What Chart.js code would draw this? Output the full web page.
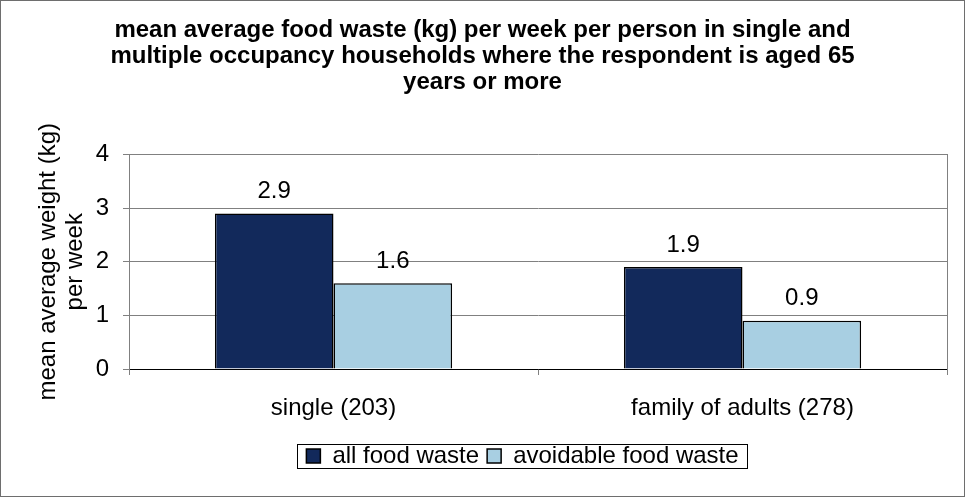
<!DOCTYPE html>
<html>
<head>
<meta charset="utf-8">
<script src="https://cdn.jsdelivr.net/npm/chart.js@4/dist/chart.umd.min.js"></script>
<style>
  html, body { margin: 0; padding: 0; background: #fff; }
  #wrap { width: 965px; height: 497px; }
</style>
</head>
<body>
<div id="wrap"><canvas id="myChart" width="965" height="497"></canvas></div>
<script>
let categorias = ["single (203)", "family of adults (278)"];
let todoDesperdicio = [2.9, 1.9];
let evitableDesperdicio = [1.6, 0.9];
let etiquetasY = [0, 1, 2, 3, 4];

let titulo = [
    "mean average food waste (kg) per week per person in single and",
    "multiple occupancy households where the respondent is aged 65",
    "years or more"
];
let tituloEjeY = ["mean average weight (kg)", "per week"];

let fuente = "'Liberation Sans', Arial, sans-serif";

// numeros encima de las barras
const pluginValores = {
    id: "valores",
    afterDatasetsDraw(chart) {
        const ctx = chart.ctx;
        ctx.save();
        ctx.font = "24px " + fuente;
        ctx.fillStyle = "#000";
        ctx.textAlign = "center";
        ctx.textBaseline = "bottom";
        chart.data.datasets.forEach((ds, i) => {
            chart.getDatasetMeta(i).data.forEach((bar, j) => {
                ctx.fillText(ds.data[j].toFixed(1), bar.x, bar.y - 10);
            });
        });
        ctx.restore();
    }
};

// mover leyenda y dibujar los bordes
const pluginBordes = {
    id: "bordes",
    afterLayout(chart) {
        chart.legend.left += 40;
        chart.legend.right += 40;
    },
    afterDraw(chart) {
        const ctx = chart.ctx;
        ctx.save();
        const cajas = chart.legend.legendHitBoxes;
        if (cajas && cajas.length) {
            let izq = Math.min(...cajas.map(c => c.left));
            let der = Math.max(...cajas.map(c => c.left + c.width));
            let arr = Math.min(...cajas.map(c => c.top));
            let aba = Math.max(...cajas.map(c => c.top + c.height));
            ctx.strokeStyle = "#000";
            ctx.lineWidth = 1;
            ctx.strokeRect(Math.round(izq - 9) + 0.5, Math.round(arr) + 0.5,
                Math.round(der - izq + 18), Math.round(aba - arr));
        }
        ctx.strokeStyle = "#6e6e6e";
        ctx.lineWidth = 1;
        ctx.strokeRect(0.5, 0.5, chart.width - 1, chart.height - 1);
        ctx.restore();
    }
};

const conf = {
    type: "bar",
    data: {
        labels: categorias,
        datasets: [
            {
                label: "all food waste",
                data: todoDesperdicio,
                backgroundColor: "#12295b",
                borderColor: "#000",
                borderWidth: 1.5,
                categoryPercentage: 0.58,
                barPercentage: 1
            },
            {
                label: "avoidable food waste",
                data: evitableDesperdicio,
                backgroundColor: "#a8cfe2",
                borderColor: "#000",
                borderWidth: 1.5,
                categoryPercentage: 0.58,
                barPercentage: 1
            }
        ]
    },
    options: {
        responsive: false,
        animation: false,
        layout: {
            padding: { top: 0, left: 0, right: 0, bottom: 19 }
        },
        plugins: {
            title: {
                display: true,
                text: titulo,
                color: "#000",
                font: { family: fuente, size: 24, weight: "bold", lineHeight: 1.09 },
                padding: { top: 17, bottom: 59 }
            },
            legend: {
                display: true,
                position: "bottom",
                labels: {
                    color: "#000",
                    font: { family: fuente, size: 24 },
                    boxWidth: 14,
                    boxHeight: 14,
                    padding: 8,
                    generateLabels(chart) {
                        return chart.data.datasets.map((ds, i) => ({
                            text: ds.label,
                            fillStyle: ds.backgroundColor,
                            strokeStyle: "#000",
                            lineWidth: 1.5,
                            datasetIndex: i,
                            fontColor: "#000"
                        }));
                    }
                }
            },
            tooltip: { enabled: false }
        },
        scales: {
            x: {
                grid: {
                    offset: true,
                    drawOnChartArea: false,
                    tickLength: 6,
                    tickColor: "#808080"
                },
                border: { color: "#000", width: 1 },
                ticks: {
                    color: "#000",
                    font: { family: fuente, size: 24 },
                    padding: 19
                },
                afterFit(s) { s.height = 67; }
            },
            y: {
                min: 0,
                max: 4,
                afterBuildTicks(s) { s.ticks = etiquetasY.map(v => ({ value: v })); },
                grid: {
                    color: "#808080",
                    tickLength: 6,
                    tickColor: "#808080"
                },
                border: { color: "#808080" },
                ticks: {
                    color: "#000",
                    font: { family: fuente, size: 24 },
                    padding: 14
                },
                title: {
                    display: true,
                    text: tituloEjeY,
                    color: "#000",
                    font: { family: fuente, size: 24, lineHeight: 1.12 },
                    padding: { top: 35, bottom: 0 }
                },
                afterFit(s) { s.width = 129; }
            },
            y2: {
                position: "right",
                min: 0,
                max: 4,
                grid: { drawOnChartArea: false, drawTicks: false },
                border: { color: "#808080" },
                ticks: { display: false },
                afterFit(s) { s.width = 18; }
            }
        }
    },
    plugins: [pluginValores, pluginBordes]
};

let grafico = new Chart(document.querySelector("#myChart"), conf);
</script>
</body>
</html>
